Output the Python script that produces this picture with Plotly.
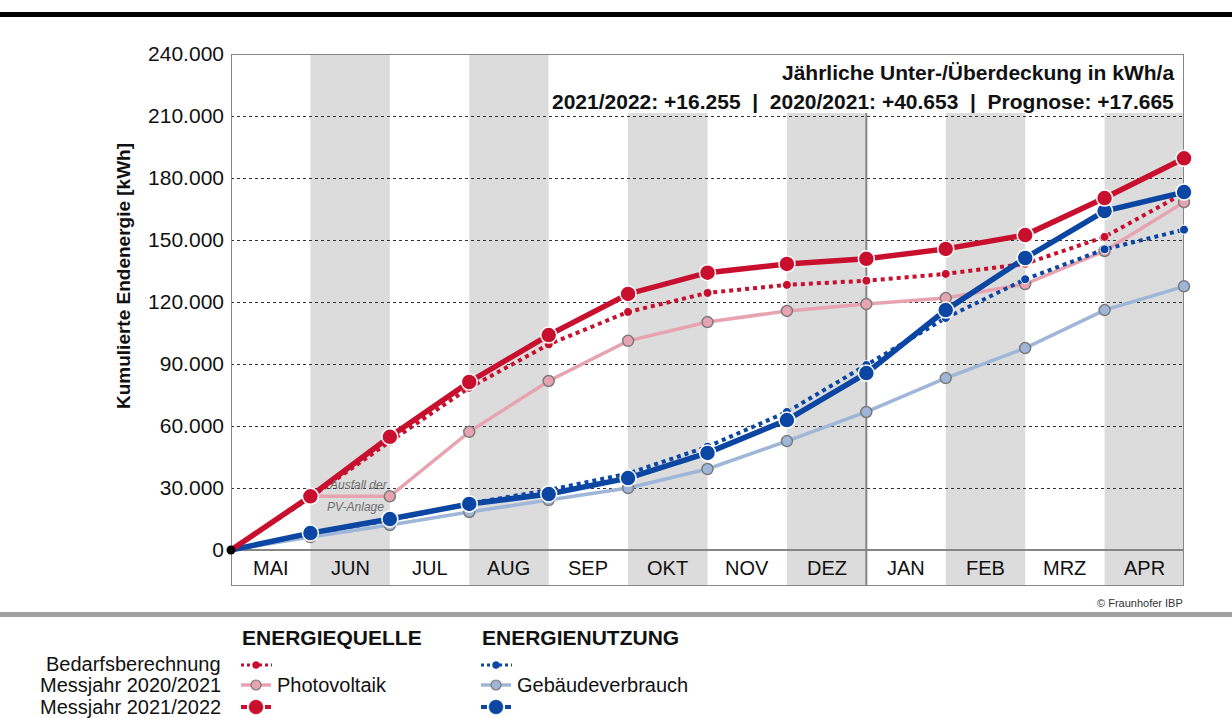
import plotly.graph_objects as go

# Monthly cumulative final energy [kWh], values at the end of each month (May -> April)
months = ["MAI", "JUN", "JUL", "AUG", "SEP", "OKT", "NOV", "DEZ", "JAN", "FEB", "MRZ", "APR"]
x_pts = list(range(13))  # 0 = start of May, 12 = end of April

quelle_bedarf = [0, 25500, 52500, 78500, 99500, 115200, 124400, 128300, 130300, 133600, 138500, 151500, 172700]
quelle_2021 = [0, 26000, 26000, 57200, 81800, 101200, 110300, 115700, 119000, 121900, 128700, 144700, 168300]
quelle_2022 = [0, 26000, 54800, 81300, 104000, 123900, 134200, 138400, 140900, 145700, 152400, 170300, 189500]

nutzung_bedarf = [0, 8000, 14500, 22500, 29000, 37000, 50000, 66800, 89500, 112300, 131000, 145500, 155000]
nutzung_2021 = [0, 6300, 12100, 18400, 24200, 30000, 39200, 52700, 66800, 83200, 97700, 116100, 127600]
nutzung_2022 = [0, 8200, 15000, 22300, 27100, 34800, 47000, 62900, 85600, 116100, 141300, 164000, 173200]

y_ticks = [0, 30000, 60000, 90000, 120000, 150000, 180000, 210000, 240000]
y_tick_text = ["0", "30.000", "60.000", "90.000", "120.000", "150.000", "180.000", "210.000", "240.000"]

RED = "#C8102E"
PINK = "#E8A3B0"
BLUE = "#0B46A3"
LIGHTBLUE = "#9FB6D8"
GREY_EDGE = "#7a7a7a"
SHADE = "#DCDCDC"
FRAME = "#858585"
FONT = "Liberation Sans, Arial, sans-serif"

W, H = 1232, 718
L, R, T, B = 231, 1184, 54, 586
Y_MIN, Y_MAX = -17400, 240000


def fx(px):
    return (px - L) / (R - L)


def fy(py):
    return (B - py) / (B - T)


fig = go.Figure()

# thin lines (2020/2021 measurements) at the bottom
fig.add_trace(go.Scatter(
    x=x_pts, y=nutzung_2021, mode="lines", showlegend=False, cliponaxis=False,
    line=dict(color=LIGHTBLUE, width=3.5)))
fig.add_trace(go.Scatter(
    x=x_pts[1:], y=nutzung_2021[1:], mode="markers", showlegend=False, cliponaxis=False,
    marker=dict(size=11, color=LIGHTBLUE, line=dict(color=GREY_EDGE, width=1.5))))
fig.add_trace(go.Scatter(
    x=x_pts, y=quelle_2021, mode="lines", showlegend=False, cliponaxis=False,
    line=dict(color=PINK, width=3.5)))
fig.add_trace(go.Scatter(
    x=x_pts[1:], y=quelle_2021[1:], mode="markers", showlegend=False, cliponaxis=False,
    marker=dict(size=11, color=PINK, line=dict(color=GREY_EDGE, width=1.5))))

# demand calculation (dotted)
for vals, col in ((nutzung_bedarf, BLUE), (quelle_bedarf, RED)):
    fig.add_trace(go.Scatter(
        x=x_pts, y=vals, mode="lines", showlegend=False, cliponaxis=False,
        line=dict(color=col, width=4, dash="4px,4px")))
    fig.add_trace(go.Scatter(
        x=x_pts[1:], y=vals[1:], mode="markers", showlegend=False, cliponaxis=False,
        marker=dict(size=9, color=col, line=dict(color="white", width=1))))

# 2021/2022 measurements (bold)
for vals, col in ((nutzung_2022, BLUE), (quelle_2022, RED)):
    fig.add_trace(go.Scatter(
        x=x_pts, y=vals, mode="lines", showlegend=False, cliponaxis=False,
        line=dict(color=col, width=5.5)))
    fig.add_trace(go.Scatter(
        x=x_pts[1:], y=vals[1:], mode="markers", showlegend=False, cliponaxis=False,
        marker=dict(size=16, color=col, line=dict(color="white", width=1.5))))

# origin dot
fig.add_trace(go.Scatter(
    x=[0], y=[0], mode="markers", showlegend=False, cliponaxis=False,
    marker=dict(size=9, color="black")))

shapes = []
# alternating month columns, including the label band
for i in range(1, 12, 2):
    shapes.append(dict(type="rect", xref="x", yref="y", x0=i, x1=i + 1, y0=Y_MIN, y1=Y_MAX,
                       fillcolor=SHADE, line=dict(width=0), layer="below"))
# white box behind the yearly balance text
shapes.append(dict(type="rect", xref="x", yref="y", x0=4, x1=12, y0=211500, y1=Y_MAX,
                   fillcolor="white", line=dict(width=0), layer="below"))
# year change line, baseline and frame
shapes.append(dict(type="line", xref="x", yref="y", x0=8, x1=8, y0=Y_MIN, y1=211500,
                   line=dict(color=FRAME, width=2), layer="between"))
shapes.append(dict(type="line", xref="x", yref="y", x0=0, x1=12, y0=0, y1=0,
                   line=dict(color=FRAME, width=2), layer="between"))
shapes.append(dict(type="rect", xref="x", yref="y", x0=0, x1=12, y0=Y_MIN, y1=Y_MAX,
                   line=dict(color=FRAME, width=2), fillcolor="rgba(0,0,0,0)", layer="between"))

# page rules
shapes.append(dict(type="rect", xref="paper", yref="paper", x0=fx(0), x1=fx(W), y0=fy(17), y1=fy(12),
                   fillcolor="black", line=dict(width=0)))
shapes.append(dict(type="rect", xref="paper", yref="paper", x0=fx(0), x1=fx(W), y0=fy(617), y1=fy(612),
                   fillcolor="#A0A0A0", line=dict(width=0)))


# legend symbols
def seg(x0, x1, cy, color, width, dash=None):
    d = dict(type="line", xref="paper", yref="paper", x0=fx(x0), x1=fx(x1),
             y0=fy(cy), y1=fy(cy), line=dict(color=color, width=width))
    if dash:
        d["line"]["dash"] = dash
    return d


def sym_circle(cx, cy, r, fill, edge, edge_w):
    return dict(type="circle", xref="paper", yref="paper", x0=fx(cx - r), x1=fx(cx + r),
                y0=fy(cy + r), y1=fy(cy - r), fillcolor=fill, line=dict(color=edge, width=edge_w))


for cx, col, light in ((256, RED, PINK), (496, BLUE, LIGHTBLUE)):
    shapes.append(seg(cx - 15, cx + 16, 665, col, 3, dash="3px,3px"))
    shapes.append(sym_circle(cx, 665, 3.5, col, col, 0.5))
    shapes.append(seg(cx - 15, cx + 15, 685, light, 3.5))
    shapes.append(sym_circle(cx, 685, 5, light, GREY_EDGE, 1.2))
    shapes.append(seg(cx - 15, cx - 9, 707, col, 4))
    shapes.append(seg(cx + 9, cx + 15, 707, col, 4))
    shapes.append(sym_circle(cx, 707, 7, col, col, 0.5))

fig.update_layout(shapes=shapes)

ann = []
# month labels in the band below the plot
for i, m in enumerate(months):
    ann.append(dict(x=i + 0.5, y=-8700, xref="x", yref="y", text=m, showarrow=False,
                    font=dict(family=FONT, size=20, color="#111"), xanchor="center", yanchor="middle"))

ann.append(dict(x=1.6, y=31400, xref="x", yref="y", text="<i>Ausfall der</i>", showarrow=False,
                font=dict(family=FONT, size=12, color="#6e6e6e"), xanchor="center", yanchor="middle"))
ann.append(dict(x=1.57, y=20800, xref="x", yref="y", text="<i>PV-Anlage</i>", showarrow=False,
                font=dict(family=FONT, size=12, color="#6e6e6e"), xanchor="center", yanchor="middle"))

ann.append(dict(x=fx(1176), y=fy(72), xref="paper", yref="paper",
                text="<b>Jährliche Unter-/Überdeckung in kWh/a</b>", showarrow=False,
                font=dict(family=FONT, size=21, color="#111"), xanchor="right", yanchor="middle"))
ann.append(dict(x=fx(1176), y=fy(101), xref="paper", yref="paper",
                text="<b>2021/2022: +16.255  |  2020/2021: +40.653  |  Prognose: +17.665</b>",
                showarrow=False, font=dict(family=FONT, size=21, color="#111"),
                xanchor="right", yanchor="middle"))

ann.append(dict(x=fx(123), y=fy(276), xref="paper", yref="paper",
                text="<b>Kumulierte Endenergie [kWh]</b>", showarrow=False, textangle=-90,
                font=dict(family=FONT, size=19, color="#111"), xanchor="center", yanchor="middle"))

ann.append(dict(x=fx(1185), y=fy(603), xref="paper", yref="paper", text="© Fraunhofer IBP",
                showarrow=False, font=dict(family=FONT, size=11, color="#333"),
                xanchor="right", yanchor="middle"))

# legend texts
ann.append(dict(x=fx(240), y=fy(637), xref="paper", yref="paper", text="<b>ENERGIEQUELLE</b>",
                showarrow=False, font=dict(family=FONT, size=21, color="#111"),
                xanchor="left", yanchor="middle"))
ann.append(dict(x=fx(480), y=fy(637), xref="paper", yref="paper", text="<b>ENERGIENUTZUNG</b>",
                showarrow=False, font=dict(family=FONT, size=21, color="#111"),
                xanchor="left", yanchor="middle"))
for label, py in (("Bedarfsberechnung", 664), ("Messjahr 2020/2021", 685), ("Messjahr 2021/2022", 707)):
    ann.append(dict(x=fx(223), y=fy(py), xref="paper", yref="paper", text=label, showarrow=False,
                    font=dict(family=FONT, size=20, color="#111"), xanchor="right", yanchor="middle"))
ann.append(dict(x=fx(275), y=fy(685), xref="paper", yref="paper", text="Photovoltaik", showarrow=False,
                font=dict(family=FONT, size=20, color="#111"), xanchor="left", yanchor="middle"))
ann.append(dict(x=fx(515), y=fy(685), xref="paper", yref="paper", text="Gebäudeverbrauch", showarrow=False,
                font=dict(family=FONT, size=20, color="#111"), xanchor="left", yanchor="middle"))

fig.update_layout(
    annotations=ann,
    width=W, height=H,
    margin=dict(l=L, r=W - R, t=T, b=H - B, pad=0),
    paper_bgcolor="white", plot_bgcolor="white",
    showlegend=False,
    xaxis=dict(range=[0, 12], showgrid=False, zeroline=False, showticklabels=False,
               showline=False, ticks="", fixedrange=True),
    yaxis=dict(range=[Y_MIN, Y_MAX], tickvals=y_ticks, ticktext=y_tick_text,
               showgrid=True, gridcolor="#333", gridwidth=1, griddash="dot",
               zeroline=False, showline=False, ticks="", ticklabelstandoff=6,
               tickfont=dict(family=FONT, size=21, color="#111"), fixedrange=True),
)

fig.write_html("out.html", config={"displayModeBar": False})
